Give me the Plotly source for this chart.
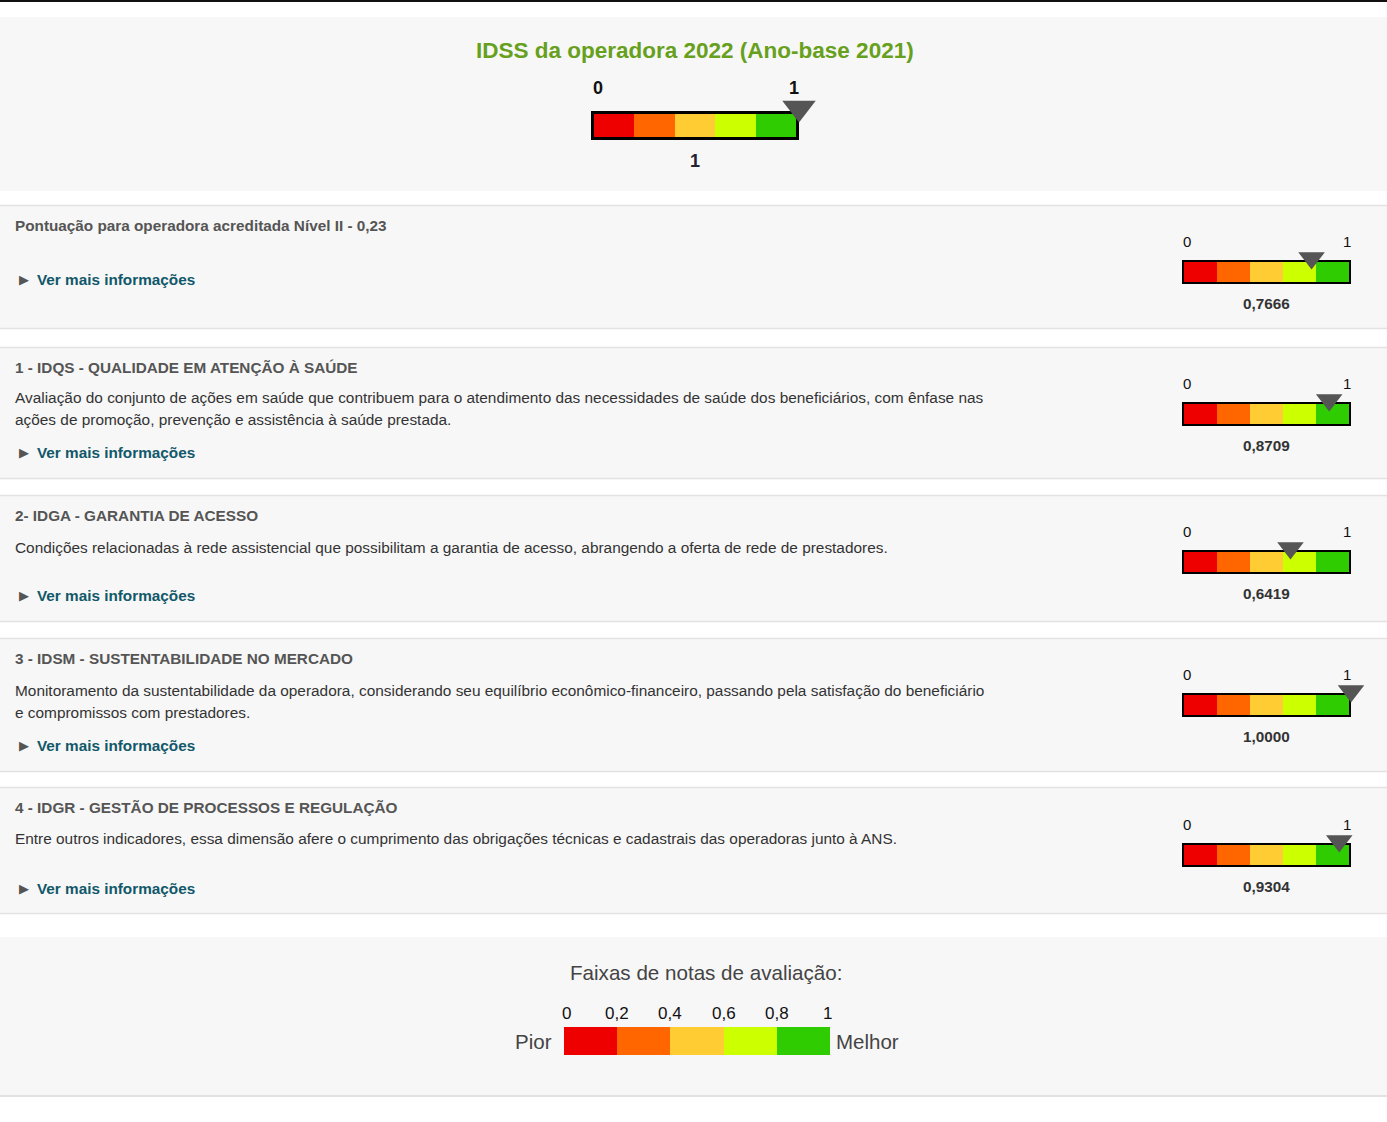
import plotly.graph_objects as go

# ---------------- data ----------------
header_title = "IDSS da operadora 2022 (Ano-base 2021)"
idss_score = 1.0
idss_score_label = "1"

row_titles = [
    "Pontuação para operadora acreditada Nível II - 0,23",
    "1 - IDQS - QUALIDADE EM ATENÇÃO À SAÚDE",
    "2- IDGA - GARANTIA DE ACESSO",
    "3 - IDSM - SUSTENTABILIDADE NO MERCADO",
    "4 - IDGR - GESTÃO DE PROCESSOS E REGULAÇÃO",
]
row_descriptions = [
    [],
    ["Avaliação do conjunto de ações em saúde que contribuem para o atendimento das necessidades de saúde dos beneficiários, com ênfase nas",
     "ações de promoção, prevenção e assistência à saúde prestada."],
    ["Condições relacionadas à rede assistencial que possibilitam a garantia de acesso, abrangendo a oferta de rede de prestadores."],
    ["Monitoramento da sustentabilidade da operadora, considerando seu equilíbrio econômico-financeiro, passando pela satisfação do beneficiário",
     "e compromissos com prestadores."],
    ["Entre outros indicadores, essa dimensão afere o cumprimento das obrigações técnicas e cadastrais das operadoras junto à ANS."],
]
row_scores = [0.7666, 0.8709, 0.6419, 1.0000, 0.9304]
row_score_labels = ["0,7666", "0,8709", "0,6419", "1,0000", "0,9304"]
link_text = "Ver mais informações"

band_edges = [0.0, 0.2, 0.4, 0.6, 0.8, 1.0]
band_colors = ["#EE0000", "#FF6600", "#FFCC33", "#CCFF00", "#2ECC00"]
band_tick_labels = ["0", "0,2", "0,4", "0,6", "0,8", "1"]
gauge_end_labels = ["0", "1"]
legend_title = "Faixas de notas de avaliação:"
legend_low = "Pior"
legend_high = "Melhor"

# ---------------- layout geometry (pixels) ----------------
W, H = 1387, 1122
FONT = "Arial, 'Liberation Sans', sans-serif"
PANEL = "#F7F7F7"
BORDER = "#E2E2E2"

row_panels = [(206, 328), (348, 478), (496, 621), (639, 771), (788, 913)]
row_title_y = [225, 367, 515, 658, 807]
row_desc_y = [[], [397, 419], [547], [690, 712], [838]]
row_link_y = [279, 452, 595, 745, 888]
row_label_y = [241, 383, 531, 674, 824]
row_bar_top = [260, 402, 550, 693, 843]
row_value_y = [303, 445, 593, 736, 886]

fig = go.Figure()
shapes = []
annotations = []
axes = {}

def fx(px):
    return px / W

def fy(py):
    return 1 - py / H

# main pixel axis
axes["xaxis"] = dict(range=[0, W], domain=[0, 1], visible=False, fixedrange=True)
axes["yaxis"] = dict(range=[H, 0], domain=[0, 1], visible=False, fixedrange=True)
fig.add_trace(go.Scatter(x=[0], y=[0], mode="markers", marker=dict(opacity=0),
                         hoverinfo="skip", showlegend=False, xaxis="x", yaxis="y"))

# top black rule
shapes.append(dict(type="line", xref="x", yref="y", x0=0, x1=W, y0=1, y1=1,
                   line=dict(color="#111111", width=2), layer="below"))
# header panel
shapes.append(dict(type="rect", xref="x", yref="y", x0=0, x1=W, y0=17, y1=191,
                   fillcolor=PANEL, line=dict(width=0), layer="below"))
# row panels
for (y0, y1) in row_panels:
    shapes.append(dict(type="rect", xref="x", yref="y", x0=0, x1=W, y0=y0, y1=y1,
                       fillcolor=PANEL, line=dict(width=0), layer="below"))
    for yy in (y0 - 0.5, y1 + 0.5):
        shapes.append(dict(type="line", xref="x", yref="y", x0=0, x1=W, y0=yy, y1=yy,
                           line=dict(color=BORDER, width=1.5), layer="below"))
# bottom legend panel
shapes.append(dict(type="rect", xref="x", yref="y", x0=0, x1=W, y0=937, y1=1095,
                   fillcolor=PANEL, line=dict(width=0), layer="below"))
shapes.append(dict(type="line", xref="x", yref="y", x0=0, x1=W, y0=1096, y1=1096,
                   line=dict(color=BORDER, width=2), layer="below"))

axis_n = [1]

def new_axis_id():
    axis_n[0] += 1
    return axis_n[0]

def add_gauge(box, border, score=None, tri_size=22, tri_gap=4, headroom=0):
    """box = outer pixel box (x0, y0, x1, y1) of the framed bar.
    Bands use a scale over the inner (coloured) area; the pointer uses a
    scale over the full framed box; y axis is in pixel units."""
    n = new_axis_id()
    x0, y0, x1, y1 = box
    inner_w = (x1 - x0) - 2 * border
    inner_h = (y1 - y0) - 2 * border
    px = border / inner_w
    half = inner_h / 2 + border
    axes[f"xaxis{n}"] = dict(domain=[fx(x0), fx(x1)], range=[-px, 1 + px],
                             visible=False, fixedrange=True, anchor=f"y{n}")
    axes[f"yaxis{n}"] = dict(domain=[fy(y1), fy(y0 - headroom)],
                             range=[-half, half + headroom],
                             visible=False, fixedrange=True, anchor=f"x{n}")
    if border > 0:
        fig.add_trace(go.Bar(x=[band_edges[-1] - band_edges[0] + 2 * px], base=[band_edges[0] - px],
                             y=[0], orientation="h", width=inner_h + 2 * border,
                             marker=dict(color="#000000", line=dict(width=0)),
                             hoverinfo="skip", showlegend=False,
                             xaxis=f"x{n}", yaxis=f"y{n}"))
    widths = [b - a for a, b in zip(band_edges[:-1], band_edges[1:])]
    fig.add_trace(go.Bar(x=widths, base=band_edges[:-1], y=[0] * len(widths),
                         orientation="h", width=inner_h,
                         marker=dict(color=band_colors, line=dict(width=0)),
                         hoverinfo="skip", showlegend=False,
                         xaxis=f"x{n}", yaxis=f"y{n}"))
    if score is not None:
        m = new_axis_id()
        axes[f"xaxis{m}"] = dict(domain=[fx(x0), fx(x1)], range=[band_edges[0], band_edges[-1]],
                                 visible=False, fixedrange=True, anchor=f"y{n}",
                                 overlaying=f"x{n}")
        yc = inner_h / 2 + tri_gap
        fig.add_trace(go.Scatter(x=[score], y=[yc], mode="markers",
                                 marker=dict(symbol="triangle-down", size=tri_size,
                                             color="#555555", line=dict(width=0)),
                                 cliponaxis=False, hoverinfo="skip", showlegend=False,
                                 xaxis=f"x{m}", yaxis=f"y{n}"))
    return n

# ---------------- header ----------------
annotations.append(dict(xref="x", yref="y", x=695, y=50, text=f"<b>{header_title}</b>",
                        showarrow=False, xanchor="center", yanchor="middle",
                        font=dict(family=FONT, size=22.5, color="#66A01C")))
n = add_gauge((591, 111, 799, 140), 3, idss_score, tri_size=29, tri_gap=6, headroom=14)
annotations.append(dict(xref=f"x{n}", yref="y", x=0, y=88, text=f"<b>{gauge_end_labels[0]}</b>",
                        showarrow=False, xanchor="left", yanchor="middle", xshift=-3,
                        font=dict(family=FONT, size=18, color="#111111")))
annotations.append(dict(xref=f"x{n}", yref="y", x=1, y=88, text=f"<b>{gauge_end_labels[1]}</b>",
                        showarrow=False, xanchor="right", yanchor="middle", xshift=5,
                        font=dict(family=FONT, size=18, color="#111111")))
annotations.append(dict(xref=f"x{n}", yref="y", x=0.5, y=161, text=f"<b>{idss_score_label}</b>",
                        showarrow=False, xanchor="center", yanchor="middle",
                        font=dict(family=FONT, size=18, color="#222233")))

# ---------------- rows ----------------
for i in range(len(row_titles)):
    annotations.append(dict(xref="x", yref="y", x=13, y=row_title_y[i],
                            text=f"<b>{row_titles[i]}</b>", showarrow=False,
                            xanchor="left", yanchor="middle",
                            font=dict(family=FONT, size=15.3, color="#555555")))
    for line, yy in zip(row_descriptions[i], row_desc_y[i]):
        annotations.append(dict(xref="x", yref="y", x=13, y=yy, text=line, showarrow=False,
                                xanchor="left", yanchor="middle",
                                font=dict(family=FONT, size=15.4, color="#333333")))
    annotations.append(dict(xref="x", yref="y", x=17, y=row_link_y[i], text="▶",
                            showarrow=False, xanchor="left", yanchor="middle",
                            font=dict(family="DejaVu Sans", size=13, color="#555555")))
    annotations.append(dict(xref="x", yref="y", x=35, y=row_link_y[i],
                            text=f"<b>{link_text}</b>", showarrow=False,
                            xanchor="left", yanchor="middle",
                            font=dict(family=FONT, size=15.3, color="#11586A")))
    top = row_bar_top[i]
    n = add_gauge((1182, top, 1351, top + 24), 2, row_scores[i], tri_size=23, tri_gap=4,
                  headroom=12)
    annotations.append(dict(xref=f"x{n}", yref="y", x=0, y=row_label_y[i], text=gauge_end_labels[0],
                            showarrow=False, xanchor="left", yanchor="middle", xshift=-3,
                            font=dict(family=FONT, size=15, color="#111111")))
    annotations.append(dict(xref=f"x{n}", yref="y", x=1, y=row_label_y[i], text=gauge_end_labels[1],
                            showarrow=False, xanchor="right", yanchor="middle", xshift=4,
                            font=dict(family=FONT, size=15, color="#111111")))
    annotations.append(dict(xref=f"x{n}", yref="y", x=0.5, y=row_value_y[i],
                            text=f"<b>{row_score_labels[i]}</b>", showarrow=False,
                            xanchor="center", yanchor="middle",
                            font=dict(family=FONT, size=15.3, color="#333333")))

# ---------------- legend of bands ----------------
annotations.append(dict(xref="x", yref="y", x=706, y=972, text=legend_title, showarrow=False,
                        xanchor="center", yanchor="middle",
                        font=dict(family=FONT, size=20.6, color="#444444")))
n = add_gauge((564, 1027, 830, 1055), 0, None)
for v, lab in zip(band_edges, band_tick_labels):
    shift = 2 if v == band_edges[0] else (-3 if v == band_edges[-1] else 0)
    annotations.append(dict(xref=f"x{n}", yref="y", x=v, y=1013, text=lab, showarrow=False,
                            xanchor="center", yanchor="middle", xshift=shift,
                            font=dict(family=FONT, size=17, color="#111111")))
annotations.append(dict(xref=f"x{n}", yref="y", x=0, y=1041, text=legend_low, showarrow=False,
                        xanchor="right", yanchor="middle", xshift=-10,
                        font=dict(family=FONT, size=20.5, color="#444444")))
annotations.append(dict(xref=f"x{n}", yref="y", x=1, y=1041, text=legend_high, showarrow=False,
                        xanchor="left", yanchor="middle", xshift=4,
                        font=dict(family=FONT, size=20.5, color="#444444")))

fig.update_layout(
    width=W, height=H,
    margin=dict(l=0, r=0, t=0, b=0, pad=0),
    paper_bgcolor="#FFFFFF",
    plot_bgcolor="rgba(0,0,0,0)",
    showlegend=False,
    shapes=shapes,
    annotations=annotations,
    barmode="overlay",
    bargap=0,
    **axes,
)

fig.write_html("out.html", include_plotlyjs=True, config={"displayModeBar": False})
